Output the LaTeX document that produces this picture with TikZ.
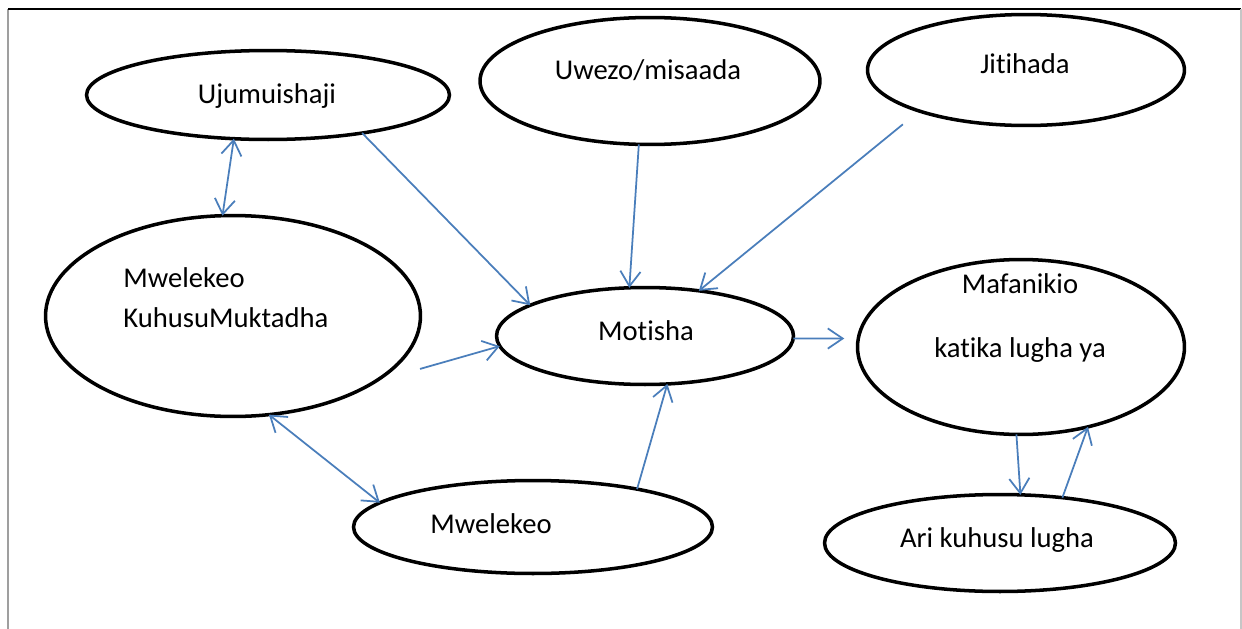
\documentclass[tikz,border=0pt]{standalone}
\usepackage{fontspec}
\setmainfont{Carlito}[Ligatures=NoCommon]
\usetikzlibrary{shapes.geometric,arrows.meta}
\definecolor{arrowblue}{RGB}{74,126,187}

\begin{document}
\begin{tikzpicture}[
  x=0.02cm, y=-0.02cm,
  bubble/.style={ellipse, draw, line width=2pt, inner sep=0pt, outer sep=0pt},
  lbl/.style={anchor=base, inner sep=0pt, font=\fontsize{16.3}{20}\selectfont},
  tip/.tip={Straight Barb[length=8.5pt,width=11.5pt]},
  link/.style={draw=arrowblue, line width=1pt, -tip},
  both/.style={link, tip-tip}
  ]
  % 画布大小
  \useasboundingbox (0,0) rectangle (1242,629);
  % 表格边框
  \draw[gray!75, line width=1.2pt] (8,9) -- (8,629);
  \draw[black, line width=0.6pt] (8,9) -- (1241,9);
  \draw[gray!45, line width=0.6pt] (1241,9) -- (1241,629);

  % 椭圆节点
  \node[bubble, minimum width=7.26cm, minimum height=1.78cm] (uj) at (268,95) {};
  \node[bubble, minimum width=6.80cm, minimum height=2.54cm] (uw) at (650,81) {};
  \node[bubble, minimum width=6.34cm, minimum height=2.22cm] (ji) at (1026,70) {};
  \node[bubble, minimum width=7.50cm, minimum height=4.02cm] (mk) at (233,316) {};
  \node[bubble, minimum width=5.94cm, minimum height=1.94cm] (mo) at (645,336) {};
  \node[bubble, minimum width=6.54cm, minimum height=3.50cm] (ma) at (1021,347) {};
  \node[bubble, minimum width=7.18cm, minimum height=1.86cm] (mw) at (533,527) {};
  \node[bubble, minimum width=7.02cm, minimum height=1.94cm] (ar) at (1000,543) {};

  % 文字
  \node[lbl] (ujT) at (267,103) {Ujumuishaji};
  \node[lbl] (uwT) at (648,79) {Uwezo/misaada};
  \node[lbl] (jiT) at (1025,73) {Jitihada};
  \node[lbl, anchor=base west] (mkT) at (123,287) {Mwelekeo};
  \node[lbl, anchor=base west] (mkT2) at (123,327) {KuhusuMuktadha};
  \node[lbl] (moT) at (646,340) {Motisha};
  \node[lbl] (maT) at (1020,293) {Mafanikio};
  \node[lbl] (maT2) at (1020,357) {katika lugha ya};
  \node[lbl, anchor=base west] (mwT) at (430,533) {Mwelekeo};
  \node[lbl] (arT) at (997,547) {Ari kuhusu lugha};

  % 箭头
  \draw[both] (uj.-128) -- (mk.96);
  \draw[link] (uj.-22) -- (mo.165);
  \draw[link] (uw.-100) -- (mo.108);
  \draw[link, shorten <=12pt] (ji.-159.5) -- (mo.40);
  \draw[link, shorten <=27pt] (mk.-25) -- (mo.-176);
  \draw[both] (mk.-70) -- (mw.171);
  \draw[link] (mw.20) -- (mo.-65);
  \draw[link, shorten >=8pt] (mo.-1) -- (ma.177);
  \draw[link] (ma.-93) -- (ar.67);
  \draw[link] (ar.36) -- (ma.-50);
\end{tikzpicture}
\end{document}
